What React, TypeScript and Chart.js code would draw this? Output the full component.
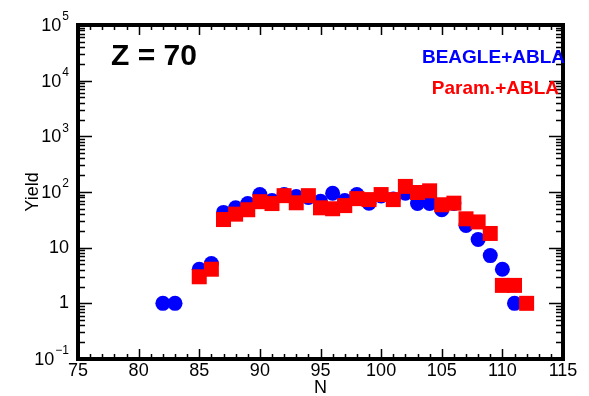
import React, { useEffect, useRef } from "react";
import { Chart, registerables } from "chart.js";

Chart.register(...registerables);

const N_BEAGLE = [82, 83, 85, 86, 87, 88, 89, 90, 91, 92, 93, 94, 95, 96, 97, 98, 99, 100, 101, 102, 103, 104, 105, 106, 107, 108, 109, 110, 111];
const Y_BEAGLE = [1.0, 1.0, 4.1, 5.2, 43, 52, 62, 90, 70, 90, 83, 80, 68, 95, 70, 90, 63, 85, 75, 95, 62, 62, 48, 62, 25, 14, 7.2, 4.1, 1.0];

const N_PARAM = [85, 86, 87, 88, 89, 90, 91, 92, 93, 94, 95, 96, 97, 98, 99, 100, 101, 102, 103, 104, 105, 106, 107, 108, 109, 110, 111, 112];
const Y_PARAM = [3.0, 4.1, 32, 40, 48, 67, 62, 86, 64, 86, 52, 50, 57, 76, 73, 90, 73, 126, 98, 105, 59, 63, 33, 29, 18, 2.1, 2.1, 1.0];

const X_TICKS = [75, 80, 85, 90, 95, 100, 105, 110, 115];
const Y_EXPONENTS = [-1, 0, 1, 2, 3, 4, 5];

const TITLE = "Z = 70";
const LABEL_BEAGLE = "BEAGLE+ABLA";
const LABEL_PARAM = "Param.+ABLA";
const FONT = "Arial, 'Liberation Sans', sans-serif";

const axesPlugin = {
  id: "customAxes",
  afterDatasetsDraw(chart: any) {
    const { ctx, chartArea, scales } = chart;
    const xs = scales.x;
    const ys = scales.y;
    const { left, right, top, bottom } = chartArea;
    ctx.save();
    ctx.strokeStyle = "#000";
    ctx.fillStyle = "#000";

    // ticks
    ctx.lineWidth = 1.5;
    ctx.beginPath();
    for (let v = 75; v <= 115; v++) {
      const px = Math.round(xs.getPixelForValue(v)) + 0.5;
      const len = v % 5 === 0 ? 10 : 5;
      ctx.moveTo(px, bottom);
      ctx.lineTo(px, bottom - len);
      ctx.moveTo(px, top);
      ctx.lineTo(px, top + len);
    }
    for (let e = -1; e <= 5; e++) {
      for (let m = 1; m <= 9; m++) {
        if (e === 5 && m > 1) break;
        const v = m * Math.pow(10, e);
        const py = Math.round(ys.getPixelForValue(v)) + 0.5;
        const len = m === 1 ? 14 : 7;
        ctx.moveTo(left, py);
        ctx.lineTo(left + len, py);
        ctx.moveTo(right, py);
        ctx.lineTo(right - len, py);
      }
    }
    ctx.stroke();

    // border
    ctx.lineWidth = 4;
    ctx.strokeRect(left, top, right - left, bottom - top);

    // x tick labels
    ctx.font = `18px ${FONT}`;
    ctx.textAlign = "center";
    ctx.textBaseline = "middle";
    X_TICKS.forEach((v) => {
      ctx.fillText(String(v), xs.getPixelForValue(v), bottom + 12);
    });
    ctx.fillText("N", (left + right) / 2, bottom + 29);

    // y tick labels
    const rx = left - 9;
    Y_EXPONENTS.forEach((e) => {
      const py = ys.getPixelForValue(Math.pow(10, e));
      ctx.textBaseline = "middle";
      ctx.textAlign = "right";
      if (e === 0 || e === 1) {
        ctx.font = `18px ${FONT}`;
        ctx.fillText(e === 0 ? "1" : "10", rx, py);
      } else {
        const sup = String(e).replace("-", "\u2212");
        ctx.font = `12px ${FONT}`;
        const supW = ctx.measureText(sup).width;
        ctx.fillText(sup, rx, py - 8);
        ctx.font = `18px ${FONT}`;
        ctx.fillText("10", rx - supW - 1, py + 1);
      }
    });

    // y title
    ctx.save();
    ctx.translate(33, 192);
    ctx.rotate(-Math.PI / 2);
    ctx.textAlign = "center";
    ctx.textBaseline = "middle";
    ctx.font = `18px ${FONT}`;
    ctx.fillText("Yield", 0, 0);
    ctx.restore();

    // annotations
    ctx.textBaseline = "middle";
    ctx.textAlign = "left";
    ctx.font = `bold 30px ${FONT}`;
    ctx.fillText(TITLE, 111, 57);
    ctx.textAlign = "right";
    ctx.font = `bold 19px ${FONT}`;
    ctx.fillStyle = "#0000ff";
    ctx.fillText(LABEL_BEAGLE, 565, 58);
    ctx.fillStyle = "#ff0000";
    ctx.fillText(LABEL_PARAM, 559, 89);
    ctx.restore();
  },
};

export default function App() {
  const canvasRef = useRef<HTMLCanvasElement | null>(null);

  useEffect(() => {
    document.body.style.margin = "0";
    const canvas = canvasRef.current;
    if (!canvas) return;
    const chart = new Chart(canvas, {
      type: "scatter",
      data: {
        datasets: [
          {
            label: LABEL_PARAM,
            data: N_PARAM.map((n, i) => ({ x: n, y: Y_PARAM[i] })),
            pointStyle: "rect",
            pointRadius: 10.6,
            pointBackgroundColor: "#ff0000",
            pointBorderColor: "#ff0000",
            pointBorderWidth: 0,
            order: 0,
          },
          {
            label: LABEL_BEAGLE,
            data: N_BEAGLE.map((n, i) => ({ x: n, y: Y_BEAGLE[i] })),
            pointStyle: "circle",
            pointRadius: 7.5,
            pointBackgroundColor: "#0000ff",
            pointBorderColor: "#0000ff",
            pointBorderWidth: 0,
            order: 1,
          },
        ],
      },
      options: {
        animation: false,
        responsive: false,
        maintainAspectRatio: false,
        layout: { padding: { left: 78, right: 26, top: 25, bottom: 37 } },
        plugins: { legend: { display: false }, tooltip: { enabled: false } },
        scales: {
          x: { type: "linear", min: 75, max: 115, display: false },
          y: { type: "logarithmic", min: 0.1, max: 100000, display: false },
        },
      },
      plugins: [axesPlugin],
    });
    return () => chart.destroy();
  }, []);

  return (
    <div style={{ width: 589, height: 396, background: "#fff" }}>
      <canvas ref={canvasRef} width={589} height={396} style={{ display: "block" }} />
    </div>
  );
}
